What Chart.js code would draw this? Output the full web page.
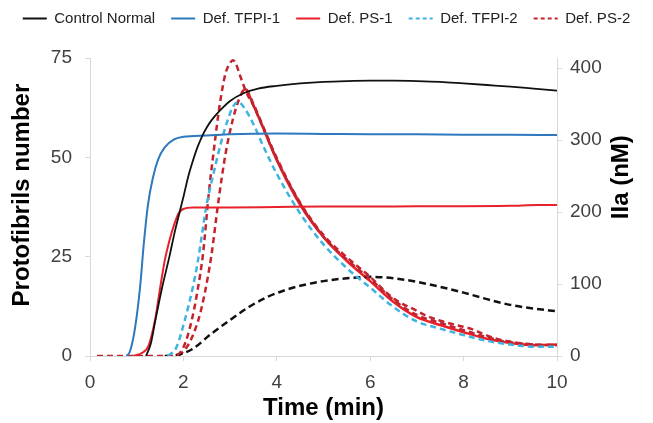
<!DOCTYPE html>
<html>
<head>
<meta charset="utf-8">
<script src="https://cdn.jsdelivr.net/npm/chart.js@4"></script>
<style>
  html, body { margin: 0; padding: 0; background: #fff; }
  #wrap { width: 653px; height: 423px; }
</style>
</head>
<body>
<div id="wrap"><canvas id="myChart" width="653" height="423"></canvas></div>
<script>
// series labels (legend order)
const seriesLabels = ["Control Normal", "Def. TFPI-1", "Def. PS-1", "Def. TFPI-2", "Def. PS-2"];

// protofibrils (left axis) - time in min
const normalFibT = [1.2, 1.3, 1.4, 1.54, 1.7, 1.82, 2.0, 2.1, 2.2, 2.3, 2.4, 2.5, 2.6, 2.8, 3.0, 3.3, 3.6, 4.0, 4.5, 5.0, 5.5, 6.0, 6.5, 7.0, 7.5, 8.0, 8.5, 9.0, 9.5, 10.0];
const normalFib  = [0, 3, 9, 17, 25, 31.5, 40, 45, 49, 52.5, 55.3, 57.5, 59.3, 62, 64.2, 66.2, 67.3, 68.0, 68.6, 69.0, 69.2, 69.3, 69.3, 69.2, 69.0, 68.6, 68.2, 67.8, 67.3, 66.8];

const tfpiFibT = [0.78, 0.85, 0.95, 1.07, 1.15, 1.24, 1.35, 1.46, 1.6, 1.8, 2.0, 2.5, 3.0, 4.0, 5.0, 6.0, 7.0, 8.0, 9.0, 10.0];
const tfpiFib  = [0, 1, 6, 17, 28, 38, 45, 49.5, 52.5, 54.5, 55.2, 55.5, 55.8, 56.0, 55.9, 55.8, 55.8, 55.7, 55.7, 55.6];

const psFibT = [0.92, 1.1, 1.25, 1.4, 1.5, 1.6, 1.7, 1.8, 1.9, 2.0, 2.2, 2.6, 3.0, 4.0, 5.0, 6.0, 7.0, 8.0, 9.0, 9.6, 10.0];
const psFib  = [0, 0.7, 2.5, 9.5, 17, 24, 29, 33, 36, 37, 37.4, 37.4, 37.4, 37.5, 37.6, 37.6, 37.7, 37.7, 37.8, 38.0, 38.0];

// thrombin IIa (right axis, nM)
const normalIIaT = [1.6, 1.9, 2.2, 2.6, 3.0, 3.4, 3.8, 4.2, 4.6, 5.0, 5.5, 6.0, 6.5, 7.0, 7.5, 8.0, 8.5, 9.0, 9.5, 10.0];
const normalIIa  = [0, 2, 10, 31, 50, 68, 82, 92, 99, 104, 108, 110, 108, 103, 96, 88, 79, 71, 66, 62];

const tfpiIIaT = [1.67, 1.85, 2.03, 2.2, 2.3, 2.5, 2.65, 2.8, 2.95, 3.05, 3.17, 3.3, 3.5, 3.7, 4.0, 4.5, 5.0, 5.5, 6.0, 6.5, 7.0, 7.5, 8.0, 8.5, 9.0, 9.5, 10.0];
const tfpiIIa  = [0, 12, 50, 95, 128, 211, 255, 295, 328, 345, 353, 345, 322, 293, 253, 198, 155, 122, 95, 68, 48, 38, 29, 21, 16, 13, 13];

const psIIaT = [3.25, 3.32, 3.5, 3.7, 4.0, 4.5, 5.0, 5.5, 6.0, 6.5, 7.0, 7.5, 8.0, 8.5, 9.0, 9.5, 10.0];
const psIIa  = [366, 371, 348, 318, 272, 210, 165, 132, 104, 75, 54, 43, 33, 24, 18, 15, 16];

const ps2aT = [0.15, 1.8, 2.0, 2.18, 2.3, 2.42, 2.55, 2.65, 2.78, 2.9, 3.0, 3.06, 3.12, 3.2, 3.35, 3.5, 3.7, 4.0, 4.5, 5.0, 5.5, 6.0, 6.5, 7.0, 7.5, 8.0, 8.5, 9.0, 9.5, 10.0];
const ps2a  = [0, 0, 12, 50, 90, 142, 230, 285, 350, 392, 407, 411, 407, 392, 366, 348, 318, 273, 212, 166, 134, 107, 78, 57, 46, 36, 26, 19, 16, 15];

const ps2bT = [1.9, 2.1, 2.32, 2.45, 2.6, 2.75, 2.9, 3.06, 3.2, 3.32, 3.5, 3.7, 4.0, 4.5, 5.0, 5.5, 6.0, 6.4, 6.7, 6.9, 7.2, 7.5, 7.9, 8.15, 8.4, 8.7, 9.0, 9.5, 10.0];
const ps2b  = [0, 15, 50, 85, 140, 215, 280, 329, 358, 371, 350, 320, 275, 213, 168, 137, 110, 85, 72, 66, 56, 49, 42, 38, 31, 24, 20, 16, 15];

// axis ticks
const xTicks = [0, 2, 4, 6, 8, 10];
const leftTicks = [0, 25, 50, 75];
const rightTicks = [0, 100, 200, 300, 400];

const FONT = '"Liberation Sans", Arial, sans-serif';

function pts(t, v) {
  return t.map((x, i) => ({ x: x, y: v[i] }));
}

function line(label, t, v, color, axis, dash, width) {
  return {
    label: label,
    data: pts(t, v),
    borderColor: color,
    backgroundColor: color,
    borderWidth: width || 2,
    borderDash: dash || [],
    yAxisID: axis,
    pointRadius: 0,
    cubicInterpolationMode: "monotone",
    fill: false
  };
}

const datasets = [
  line(seriesLabels[0], normalFibT, normalFib, "#111111", "y", [], 1.8),
  line(seriesLabels[1], tfpiFibT, tfpiFib, "#2e78bd", "y"),
  line(seriesLabels[2], psFibT, psFib, "#e8212b", "y"),
  line(seriesLabels[3], tfpiIIaT, tfpiIIa, "#3db4e2", "y1", [6, 4], 2.5),
  line(seriesLabels[4], ps2aT, ps2a, "#c3232d", "y1", [6, 4], 2.5),
  line("Control Normal IIa", normalIIaT, normalIIa, "#111111", "y1", [7, 4], 2.5),
  line("Def. PS-2 IIa", ps2bT, ps2b, "#c3232d", "y1", [6, 4], 2.5),
  line("Def. PS-1 IIa", psIIaT, psIIa, "#e8212b", "y1", [], 2.5)
];

// y titles are drawn by hand: the right one reads bottom-to-top and
// both sit a bit above the middle of the axis in the original
const sideTitles = {
  id: "sideTitles",
  afterInit(chart) {
    // leave a gap under the legend
    const lg = chart.legend;
    const fit = lg.fit;
    lg.fit = function () { fit.call(this); this.height += 22; };
  },
  afterDraw(chart) {
    const { ctx, chartArea } = chart;
    const drawTitle = (text, x, y) => {
      ctx.save();
      ctx.translate(x, y);
      ctx.rotate(-Math.PI / 2);
      ctx.font = "bold 24px " + FONT;
      ctx.textAlign = "center";
      ctx.textBaseline = "middle";
      ctx.fillStyle = "#000";
      ctx.fillText(text, 0, 0);
      ctx.restore();
    };
    drawTitle("Protofibrils number", chart.scales.y.left + 22, chartArea.top + chartArea.height * 0.46);
    drawTitle("IIa (nM)", chart.scales.y1.right - 32, chartArea.top + chartArea.height * 0.40);
  }
};

const axisGrid = { display: true, drawOnChartArea: false, drawTicks: true, tickLength: 5, color: "#d9d9d9" };

new Chart(document.getElementById("myChart").getContext("2d"), {
  type: "line",
  data: { datasets: datasets },
  plugins: [sideTitles],
  options: {
    responsive: false,
    animation: false,
    layout: { padding: { top: -5, left: 0, right: 0, bottom: 0 } },
    plugins: {
      tooltip: { enabled: false },
      legend: {
        position: "top",
        labels: {
          filter: (item) => item.datasetIndex < 5,
          generateLabels: (chart) => {
            const items = Chart.defaults.plugins.legend.labels.generateLabels(chart);
            items.forEach(it => {
              const ds = chart.data.datasets[it.datasetIndex];
              it.lineWidth = 2;
              it.strokeStyle = ds.borderColor;
              it.lineDash = ds.borderDash.length ? [4, 3] : [];
            });
            return items;
          },
          usePointStyle: true,
          pointStyle: "line",
          pointStyleWidth: 24,
          boxHeight: 15,
          padding: 16,
          color: "#222",
          font: { family: FONT, size: 15 }
        }
      }
    },
    scales: {
      x: {
        type: "linear",
        min: 0,
        max: 10,
        afterBuildTicks: (s) => { s.ticks = xTicks.map(v => ({ value: v })); },
        afterFit: (s) => { s.height = 67; },
        grid: axisGrid,
        border: { color: "#d9d9d9" },
        ticks: { color: "#404040", font: { family: FONT, size: 19 }, padding: 10 },
        title: { display: true, text: "Time (min)", color: "#000", font: { family: FONT, size: 24, weight: "bold" }, padding: 0 }
      },
      y: {
        position: "left",
        min: 0,
        max: 75,
        afterBuildTicks: (s) => { s.ticks = leftTicks.map(v => ({ value: v })); },
        afterFit: (s) => { s.width = 90; },
        grid: axisGrid,
        border: { color: "#d9d9d9" },
        ticks: { color: "#404040", font: { family: FONT, size: 19 }, padding: 13 }
      },
      y1: {
        position: "right",
        min: 0,
        max: 414,
        afterBuildTicks: (s) => { s.ticks = rightTicks.map(v => ({ value: v })); },
        afterFit: (s) => { s.width = 96; },
        grid: axisGrid,
        border: { color: "#d9d9d9" },
        ticks: { color: "#404040", font: { family: FONT, size: 19 }, padding: 8 }
      }
    }
  }
});
</script>
</body>
</html>
